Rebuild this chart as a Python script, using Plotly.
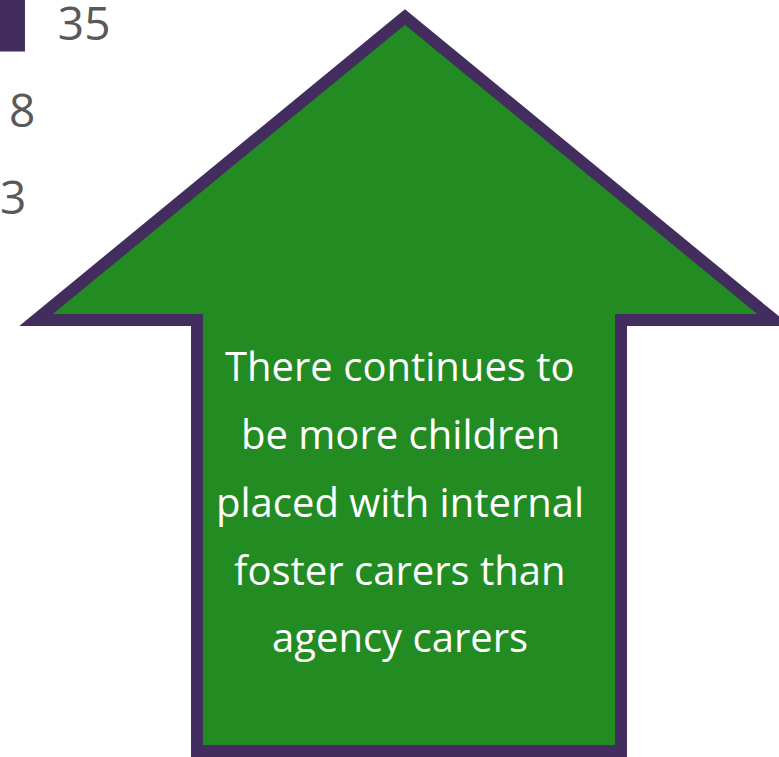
import plotly.graph_objects as go

# ---- data ----
categories = ["Internal foster carers", "Agency foster carers", "Other placements"]
values = [35, 8, 3]
value_labels = ["35", "8", "3"]
message_lines = [
    "There continues to",
    "be more children",
    "placed with internal",
    "foster carers than",
    "agency carers",
]

PURPLE = "#432D5E"
GREEN = "#228B22"
GREY = "#595959"
W, H = 779, 757

fig = go.Figure()
fig.add_trace(go.Bar(
    y=categories, x=values, orientation="h",
    marker=dict(color=PURPLE, line=dict(width=0)),
    width=0.68, hoverinfo="skip",
))
fig.add_trace(go.Scatter(
    y=categories, x=values, mode="markers+text",
    text=value_labels, textposition="middle right",
    marker=dict(size=51, color="rgba(0,0,0,0)"),
    textfont=dict(family="Open Sans", size=46, color=GREY),
    cliponaxis=True, hoverinfo="skip", yaxis="y2",
))

# arrow callout drawn in pixel space (converted to paper coords)
def px(x, y):
    return f"{x / W:.5f},{1 - y / H:.5f}"

pts = [(405, 17), (36, 320), (197, 320), (197, 751), (621, 751), (621, 320), (774, 320)]
path = "M " + " L ".join(px(x, y) for x, y in pts) + " Z"
fig.add_shape(type="path", path=path, xref="paper", yref="paper",
              fillcolor=GREEN, line=dict(color=PURPLE, width=12))

line_y = [365, 433, 501, 569, 636]
for txt, y in zip(message_lines, line_y):
    fig.add_annotation(text=txt, x=400 / W, y=1 - y / H, xref="paper", yref="paper",
                       xanchor="center", yanchor="middle", showarrow=False,
                       font=dict(family="Open Sans", size=40, color="white"))

fig.update_layout(
    width=W, height=H, margin=dict(l=0, r=0, t=0, b=0),
    paper_bgcolor="white", plot_bgcolor="white", showlegend=False,
    xaxis=dict(visible=False, range=[21.2, 451.6], fixedrange=True),
    yaxis=dict(visible=False, range=[8.45, -0.253], fixedrange=True),
    yaxis2=dict(visible=False, range=[8.45 - 0.075, -0.253 - 0.075], fixedrange=True,
                overlaying="y"),
)

fig.write_html("out.html", post_script="document.body.style.margin='0';",
               config={"displayModeBar": False})
